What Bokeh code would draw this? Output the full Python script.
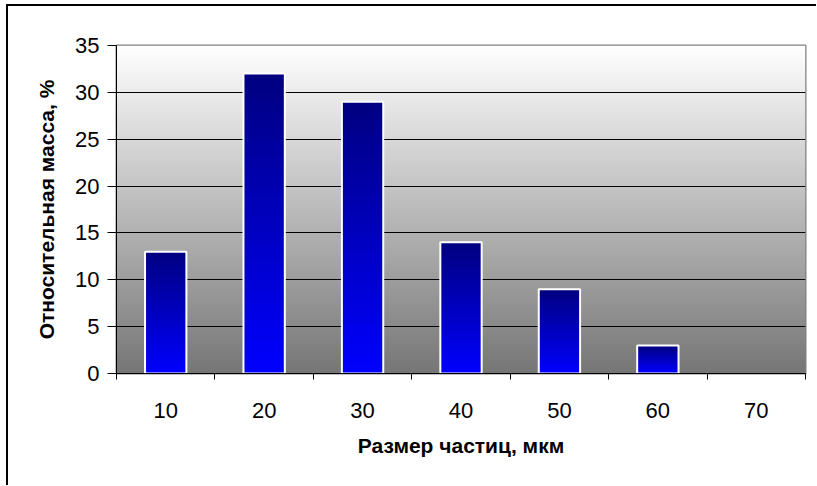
import numpy as np
from bokeh.plotting import figure
from bokeh.models import Range1d, FixedTicker, ColumnDataSource
from bokeh.embed import file_html
from bokeh.resources import INLINE

# Particle size distribution
sizes = ["10", "20", "30", "40", "50", "60", "70"]
mass_pct = [13, 32, 29, 14, 9, 3, 0]
y_ticks = [0, 5, 10, 15, 20, 25, 30, 35]

FONT = "Liberation Sans"
BAR_W = 0.42
N = len(sizes)
centers = [i + 0.5 for i in range(N)]


def vertical_gradient(bottom_rgb, top_rgb, rows=256):
    t = np.linspace(0.0, 1.0, rows)[:, None]
    b = np.array(bottom_rgb, dtype=float)
    c = np.array(top_rgb, dtype=float)
    rgb = b + (c - b) * t
    img = np.empty((rows, 1, 4), dtype=np.uint8)
    img[:, 0, :3] = np.round(rgb).astype(np.uint8)
    img[:, 0, 3] = 255
    return img.view(np.uint32).reshape(rows, 1)


p = figure(
    width=810, height=481,
    x_range=Range1d(0, N), y_range=Range1d(0, 35),
    output_backend="svg", toolbar_location=None,
    min_border_left=108, min_border_right=13,
    min_border_top=39, min_border_bottom=114,
    background_fill_color="white", border_fill_color="white",
)
p.styles = {
    "margin-left": "6px", "margin-top": "4px",
    "border-left": "2px solid black", "border-top": "2px solid black",
}

# plot-area gradient: light at top, grey at bottom
p.image_rgba(image=[vertical_gradient((118, 118, 118), (255, 255, 255))],
             x=0, y=0, dw=N, dh=35, level="image")

# bars with a per-bar navy-to-blue gradient
for c, v in zip(centers, mass_pct):
    if v > 0:
        p.image_rgba(image=[vertical_gradient((0, 0, 255), (0, 0, 128), rows=128)],
                     x=c - BAR_W / 2, y=0, dw=BAR_W, dh=v)

bars = ColumnDataSource(dict(
    left=[c - BAR_W / 2 for c, v in zip(centers, mass_pct) if v > 0],
    right=[c + BAR_W / 2 for c, v in zip(centers, mass_pct) if v > 0],
    top=[v for v in mass_pct if v > 0],
))
p.quad(left="left", right="right", bottom=0, top="top", source=bars,
       fill_alpha=0, line_color="white", line_width=2)

p.outline_line_color = "#808080"
p.outline_line_width = 2

# grid
p.xgrid.visible = False
p.ygrid.ticker = FixedTicker(ticks=y_ticks)
p.ygrid.grid_line_color = "black"
p.ygrid.grid_line_width = 1

# y axis
p.yaxis.ticker = FixedTicker(ticks=y_ticks)
p.yaxis.axis_label = "Относительная масса, %"
p.yaxis.axis_line_color = "black"
p.yaxis.major_tick_in = 0
p.yaxis.major_tick_out = 9
p.yaxis.minor_tick_line_color = None
p.yaxis.major_label_standoff = 8
p.yaxis.axis_label_standoff = 14

# x axis: labels at category centres, tick marks at category boundaries
p.xaxis.ticker = FixedTicker(ticks=centers, minor_ticks=list(range(N + 1)))
p.xaxis.major_label_overrides = {c: s for c, s in zip(centers, sizes)}
p.xaxis.axis_label = "Размер частиц, мкм"
p.xaxis.major_tick_in = 0
p.xaxis.major_tick_out = 0
p.xaxis.minor_tick_in = 0
p.xaxis.minor_tick_out = 6
p.xaxis.minor_tick_line_color = "black"
p.xaxis.major_label_standoff = 23
p.xaxis.axis_label_standoff = 13

for ax in (p.xaxis, p.yaxis):
    ax.axis_line_color = "black"
    ax.axis_line_width = 1
    ax.major_tick_line_color = "black"
    ax.major_label_text_font = FONT
    ax.major_label_text_font_size = "22px"
    ax.major_label_text_color = "black"
    ax.axis_label_text_font = FONT
    ax.axis_label_text_font_size = "21px"
    ax.axis_label_text_font_style = "bold"
    ax.axis_label_text_color = "black"

with open("out.html", "w") as f:
    f.write(file_html(p, INLINE))
